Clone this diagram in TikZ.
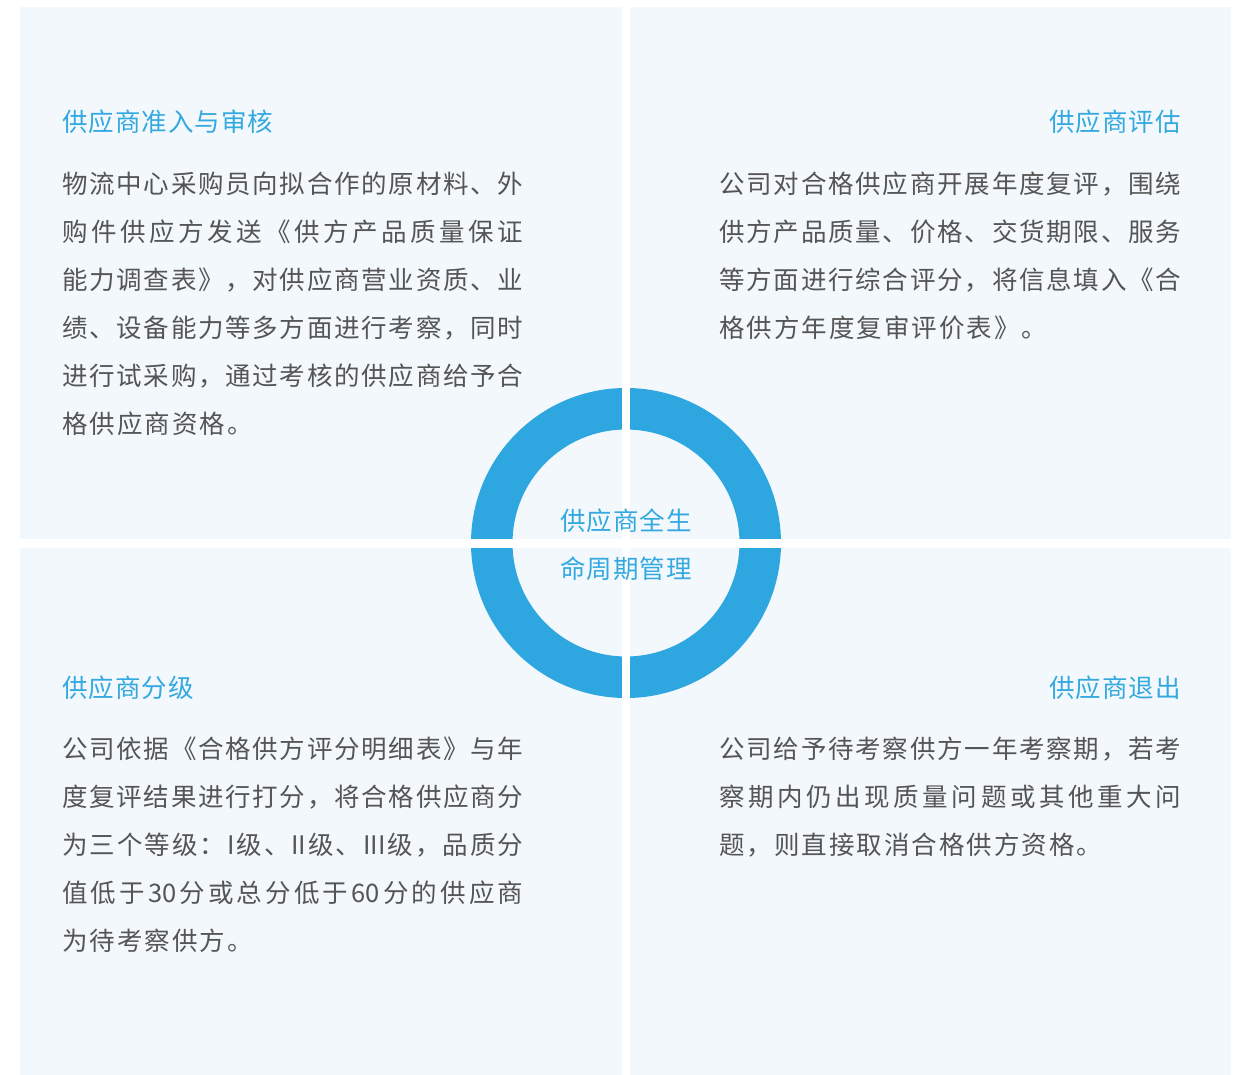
\documentclass[tikz,border=0pt]{standalone}
\usepackage{fontspec}
\newfontfamily\cjk{Noto Sans CJK SC}
\definecolor{panelbg}{HTML}{F3F8FD}
\definecolor{ringblue}{HTML}{2EA7E0}
\definecolor{titleblue}{HTML}{34A9E0}
\definecolor{bodygray}{HTML}{555555}
\makeatletter
\newcommand\jline[2]{\makebox[#1][s]{\@tfor\cc:=#2\do{\cc\hskip 0pt plus 1fil}\unskip}}
\newcommand\nline[2]{\@tfor\cc:=#2\do{\cc\hskip #1}\unskip}
\makeatother
\tikzset{
  panel/.style={fill=panelbg, draw=none},
  body/.style={inner sep=0pt, text=bodygray, font=\cjk\fontsize{25.5}{25.5}\selectfont},
  ttl/.style={inner sep=0pt, text=titleblue, font=\cjk\fontsize{25.5}{25.5}\selectfont},
  ctr/.style={inner sep=0pt, text=titleblue, font=\cjk\fontsize{25.5}{25.5}\selectfont, anchor=center},
}
\begin{document}
\begin{tikzpicture}[x=1pt,y=-1pt]
\useasboundingbox (0,0) rectangle (1239,1075);
\fill[white] (0,0) rectangle (1239,1075);
% panels
\fill[panel] (20,7) rectangle (622,538.5);
\fill[panel] (630,7) rectangle (1231,538.5);
\fill[panel] (20,547.5) rectangle (622,1075);
\fill[panel] (630,547.5) rectangle (1231,1075);
% ring
\fill[ringblue, even odd rule] (626,543) circle[radius=155pt] (626,543) circle[radius=113.5pt];
\fill[white] (622,380) rectangle (630,710);
\fill[white] (460,538.5) rectangle (792,547.5);
\node[ctr] (c1) at (626,521) {\nline{1pt}{供应商全生}};
\node[ctr] (c2) at (626,569) {\nline{1pt}{命周期管理}};
% top-left
\node[ttl, anchor=west] (t1) at (62,122) {\nline{1pt}{供应商准入与审核}};
\node[body, anchor=west] (a1) at (62,184) {\jline{461pt}{物流中心采购员向拟合作的原材料、外}};
\node[body, anchor=west] (a2) at (62,232) {\jline{461pt}{购件供应方发送《供方产品质量保证}};
\node[body, anchor=west] (a3) at (62,280) {\jline{461pt}{能力调查表》，对供应商营业资质、业}};
\node[body, anchor=west] (a4) at (62,328) {\jline{461pt}{绩、设备能力等多方面进行考察，同时}};
\node[body, anchor=west] (a5) at (62,376) {\jline{461pt}{进行试采购，通过考核的供应商给予合}};
\node[body, anchor=west] (a6) at (62,424) {\nline{2pt}{格供应商资格。}};
% top-right
\node[ttl, anchor=east] (t2) at (1181,122) {\nline{1pt}{供应商评估}};
\node[body, anchor=west] (b1) at (719,184) {\jline{462pt}{公司对合格供应商开展年度复评，围绕}};
\node[body, anchor=west] (b2) at (719,232) {\jline{462pt}{供方产品质量、价格、交货期限、服务}};
\node[body, anchor=west] (b3) at (719,280) {\jline{462pt}{等方面进行综合评分，将信息填入《合}};
\node[body, anchor=west] (b4) at (719,328) {\nline{2pt}{格供方年度复审评价表》。}};
% bottom-left
\node[ttl, anchor=west] (t3) at (62,688) {\nline{1pt}{供应商分级}};
\node[body, anchor=west] (d1) at (62,749) {\jline{461pt}{公司依据《合格供方评分明细表》与年}};
\node[body, anchor=west] (d2) at (62,797) {\jline{461pt}{度复评结果进行打分，将合格供应商分}};
\node[body, anchor=west] (d3) at (62,845) {\jline{461pt}{为三个等级：{I}级、{II}级、{III}级，品质分}};
\node[body, anchor=west] (d4) at (62,893) {\jline{461pt}{值低于{30}分或总分低于{60}分的供应商}};
\node[body, anchor=west] (d5) at (62,941) {\nline{2pt}{为待考察供方。}};
% bottom-right
\node[ttl, anchor=east] (t4) at (1181,688) {\nline{1pt}{供应商退出}};
\node[body, anchor=west] (e1) at (719,749) {\jline{462pt}{公司给予待考察供方一年考察期，若考}};
\node[body, anchor=west] (e2) at (719,797) {\jline{462pt}{察期内仍出现质量问题或其他重大问}};
\node[body, anchor=west] (e3) at (719,845) {\nline{2pt}{题，则直接取消合格供方资格。}};
\end{tikzpicture}
\end{document}
